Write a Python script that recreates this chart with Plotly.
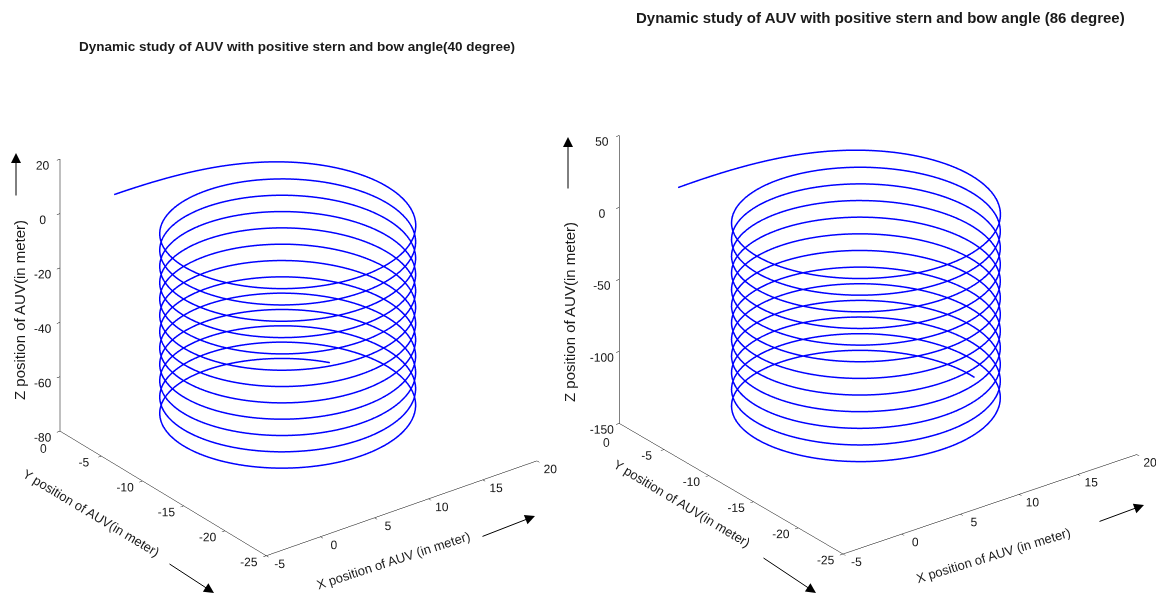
import numpy as np
import plotly.graph_objects as go

# ---------------- data ----------------
x_ticks = [-5, 0, 5, 10, 15, 20]
y_ticks = [-25, -20, -15, -10, -5, 0]
z_ticks_left = [-80, -60, -40, -20, 0, 20]
z_ticks_right = [-150, -100, -50, 0, 50]

# left run (40 degree): turning circle centre, radius, start point,
# z gained at entry, z lost per turn, total angle turned (deg)
left_center = [6.5, -12.5]
left_radius = [9.4]
left_start = [0.0, 0.0, 0.0]
left_rise = [5.0]
left_pitch = [6.0]
left_total_turn = [4404.0]

# right run (86 degree)
right_center = [6.7, -12.2]
right_radius = [9.1]
right_start = [0.0, 0.0, 0.0]
right_rise = [12.0]
right_pitch = [11.56]
right_total_turn = [4440.0]

title_left = "Dynamic study of AUV with positive stern and bow angle(40 degree)"
title_right = "Dynamic study of AUV with positive stern and bow angle (86 degree)"


def trajectory(center, radius, start, rise, pitch, total_turn):
    cx, cy = center
    R = radius[0]
    dx, dy = start[0] - cx, start[1] - cy
    phi0 = np.degrees(np.arctan2(dy, dx))
    s0 = np.hypot(dx, dy) / R
    tau = np.arange(0.0, total_turn[0] + 0.1, 3.0)
    s = 1 + (s0 - 1) * np.exp(-tau / 25.0)
    phi = np.radians(phi0 - tau)
    x = cx + R * s * np.cos(phi)
    y = cy + R * s * np.sin(phi)
    z = start[2] + rise[0] * (1 - np.exp(-tau / 30.0)) - pitch[0] * tau / 360.0
    return x, y, z


xl, yl, zl = trajectory(left_center, left_radius, left_start, left_rise, left_pitch, left_total_turn)
xr, yr, zr = trajectory(right_center, right_radius, right_start, right_rise, right_pitch, right_total_turn)

FONT = "Liberation Sans, Arial, sans-serif"
TXT = "#1a1a1a"

fig = go.Figure()
fig.add_trace(go.Scatter3d(x=xl, y=yl, z=zl, mode="lines",
                           line=dict(color="#0000ff", width=3),
                           hoverinfo="skip", showlegend=False, scene="scene"))
fig.add_trace(go.Scatter3d(x=xr, y=yr, z=zr, mode="lines",
                           line=dict(color="#0000ff", width=3),
                           hoverinfo="skip", showlegend=False, scene="scene2"))


def ax(rng, ticks, blank=None):
    text = ["" if t == blank else str(t) for t in ticks]
    return dict(range=rng, tickvals=ticks, ticktext=text,
                autorange=False, showgrid=False, zeroline=False,
                showbackground=False, showline=True, linecolor="black",
                linewidth=1, ticks="inside", ticklen=4, tickcolor="black",
                tickangle=0, showspikes=False, title=dict(text=""),
                tickfont=dict(family=FONT, size=12, color=TXT))


def cam(el_deg, az_deg, dist):
    el = np.radians(el_deg)
    az = np.radians(az_deg)
    return dict(projection=dict(type="orthographic"),
                up=dict(x=0, y=0, z=1), center=dict(x=0, y=0, z=0),
                eye=dict(x=-np.sin(az) * np.cos(el) * dist,
                         y=-np.cos(az) * np.cos(el) * dist,
                         z=np.sin(el) * dist))


fig.update_layout(
    width=1164, height=598,
    margin=dict(l=0, r=0, t=0, b=0),
    paper_bgcolor="white",
    scene=dict(domain=dict(x=[0.0100, 0.4885], y=[0.0192, 0.9724]),
               xaxis=ax([-5, 20], x_ticks), yaxis=ax([-25, 0], y_ticks, blank=0),
               zaxis=ax([-80, 20], z_ticks_left),
               aspectmode="manual", aspectratio=dict(x=1.194, y=1.194, z=1.075),
               camera=cam(27.4, 37.3, 2.0), bgcolor="rgba(0,0,0,0)"),
    scene2=dict(domain=dict(x=[0.4985, 0.9966], y=[0.0401, 1.0]),
                xaxis=ax([-5, 20], x_ticks), yaxis=ax([-25, 0], y_ticks, blank=0),
                zaxis=ax([-150, 50], z_ticks_right),
                aspectmode="manual", aspectratio=dict(x=1.2864, y=1.2864, z=1.1201),
                camera=cam(26.4, 37.3, 2.0), bgcolor="rgba(0,0,0,0)"),
)

W, H = 1164.0, 598.0
PAGE_OFF = 8.0  # page body margin in the screenshot


def px(xp, yp):
    return (xp - PAGE_OFF) / W, 1 - (yp - PAGE_OFF) / H


anns = []
# titles
for txt, (cx, cy), sz in [(title_left, (297, 47), 13.5), (title_right, (880, 18), 15)]:
    x, y = px(cx, cy)
    anns.append(dict(text="<b>" + txt + "</b>", x=x, y=y, xref="paper", yref="paper",
                     showarrow=False, xanchor="center", yanchor="middle",
                     font=dict(family=FONT, size=sz, color=TXT)))
# axis labels
labels = [
    ("Z position of AUV(in meter)", 19, 310, -90, 15),
    ("Y position of AUV(in meter)", 92, 513, 31, 13),
    ("X position of AUV (in meter)", 393, 560, -18, 13),
    ("Z position of AUV(in meter)", 569, 312, -90, 15),
    ("Y position of AUV(in meter)", 682, 503, 31, 13),
    ("X position of AUV (in meter)", 993, 555, -17, 13),
]
for txt, cx, cy, ang, sz in labels:
    x, y = px(cx, cy)
    anns.append(dict(text=txt, x=x, y=y, xref="paper", yref="paper",
                     showarrow=False, textangle=ang, xanchor="center",
                     yanchor="middle",
                     font=dict(family=FONT, size=sz, color=TXT)))
# y = 0 tick labels, set below the z-axis foot as in the picture
for cx, cy in [(43, 449), (607, 443)]:
    x, y = px(cx, cy)
    anns.append(dict(text=str(y_ticks[-1]), x=x, y=y, xref="paper", yref="paper",
                     showarrow=False, xanchor="center", yanchor="middle",
                     font=dict(family=FONT, size=12, color=TXT)))
# arrows (head, tail)
arrows = [((16, 153), (16, 197)), ((214, 593), (168, 563)), ((535, 516), (481, 537)),
          ((568, 137), (568, 190)), ((816, 593), (762, 557)), ((1144, 505), (1098, 522))]
for (hx, hy), (tx, ty) in arrows:
    x, y = px(hx, hy)
    anns.append(dict(text="", x=x, y=y, xref="paper", yref="paper",
                     showarrow=True, ax=tx - hx, ay=ty - hy, axref="pixel",
                     ayref="pixel", arrowhead=2, arrowsize=2, arrowwidth=1,
                     arrowcolor="black"))
fig.update_layout(annotations=anns)

fig.write_html("out.html", config={"displayModeBar": False})
